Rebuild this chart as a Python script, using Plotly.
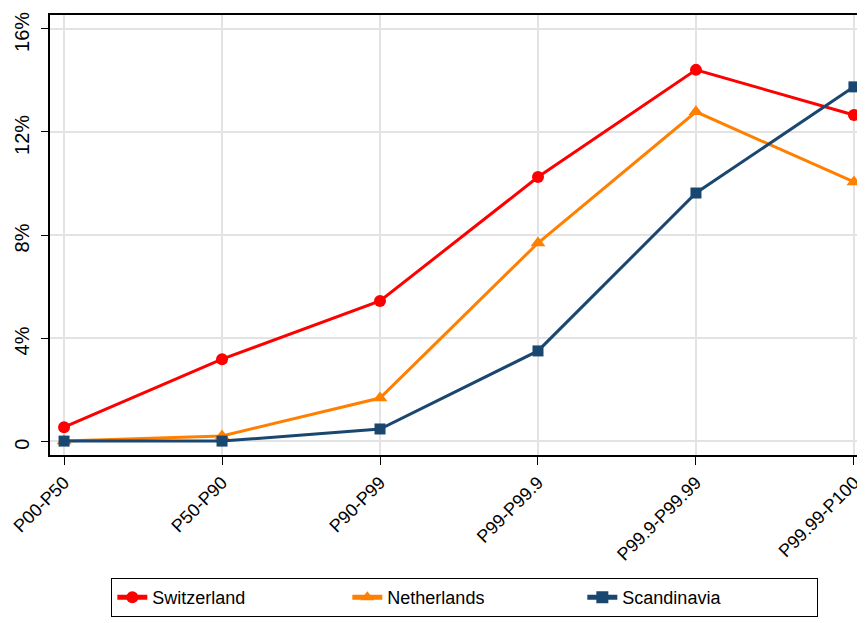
import plotly.graph_objects as go

groups = ["P00-P50", "P50-P90", "P90-P99", "P99-P99.9", "P99.9-P99.99", "P99.99-P100"]
switzerland = [0.54, 3.18, 5.44, 10.25, 14.41, 12.66]
netherlands = [0.0, 0.2, 1.67, 7.69, 12.78, 10.06]
scandinavia = [0.0, 0.0, 0.47, 3.5, 9.63, 13.75]

y_ticks = [0, 4, 8, 12, 16]
y_labels = ["0", "4%", "8%", "12%", "16%"]

series = [
    ("Switzerland", switzerland, "#FF0000", "circle", 12),
    ("Netherlands", netherlands, "#FF8000", "triangle-up", 13),
    ("Scandinavia", scandinavia, "#1A476F", "square", 11),
]

fig = go.Figure()
for name, vals, color, sym, size in series:
    fig.add_trace(go.Scatter(
        x=list(range(len(groups))), y=vals, name=name, mode="lines+markers",
        line=dict(color=color, width=3),
        marker=dict(symbol=sym, size=size, color=color),
        cliponaxis=False,
    ))

# page body keeps an 8px margin, so the figure is sized to fit the window
fig.update_layout(
    width=857, height=615,
    margin=dict(l=42, r=0, t=7, b=168),
    plot_bgcolor="white", paper_bgcolor="white",
    font=dict(family="Liberation Sans, Arial, sans-serif", color="black"),
    legend=dict(
        orientation="h", x=0.509, xanchor="center", y=-0.2795, yanchor="top",
        bordercolor="black", borderwidth=1, font=dict(size=18),
        entrywidth=190, itemsizing="constant",
    ),
)

fig.update_xaxes(
    range=[-0.089, 5.07], automargin=False,
    tickmode="array", tickvals=list(range(len(groups))), ticktext=groups,
    tickangle=-45, tickfont=dict(size=18),
    ticks="outside", ticklen=8, tickcolor="black",
    showgrid=True, gridcolor="#E3E3E3", gridwidth=2,
    showline=True, linecolor="black", linewidth=2, mirror=True,
    zeroline=False,
)
fig.update_yaxes(
    range=[-0.54, 16.54], automargin=False,
    tickmode="array", tickvals=y_ticks, ticktext=y_labels,
    tickangle=-90, tickfont=dict(size=20),
    ticks="outside", ticklen=7, tickcolor="black",
    ticklabeloverflow="allow", ticklabelshift=6, ticklabelstandoff=4,
    showgrid=True, gridcolor="#E3E3E3", gridwidth=2,
    showline=True, linecolor="black", linewidth=2,
    zeroline=False,
)

fig.write_html("out.html")
